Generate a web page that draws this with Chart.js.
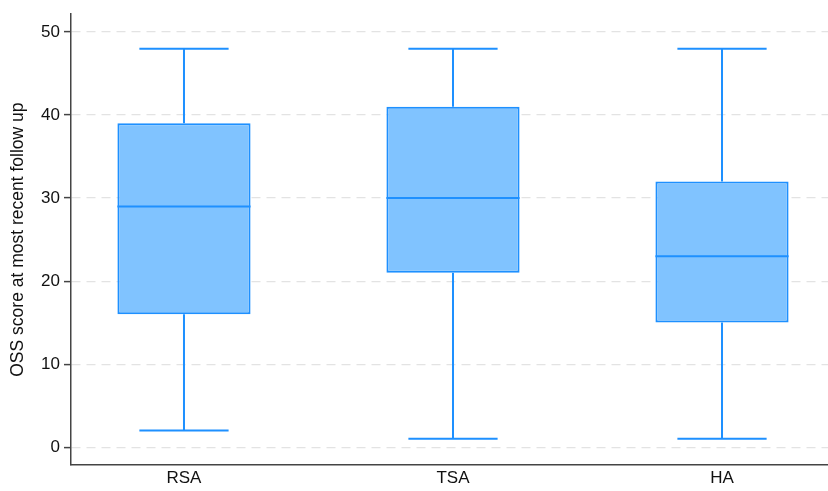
<!DOCTYPE html>
<html>
<head>
<meta charset="utf-8">
<script src="https://cdn.jsdelivr.net/npm/chart.js@4.4.1/dist/chart.umd.min.js"></script>
<style>
  html, body { margin: 0; padding: 0; background: #ffffff; }
  #wrap { width: 828px; height: 491px; }
</style>
</head>
<body>
<div id="wrap"><canvas id="c" width="828" height="491"></canvas></div>
<script>
// Groups and five-number summaries of the OSS score
const groups   = ['RSA', 'TSA', 'HA'];
const mins     = [2, 1, 1];
const q1s      = [16, 21, 15];
const medians  = [29, 30, 23];
const q3s      = [39, 41, 32];
const maxs     = [48, 48, 48];
const yTicks   = [0, 10, 20, 30, 40, 50];

const FILL   = 'rgb(128,195,255)';
const STROKE = 'rgb(30,144,255)';
const AXIS   = '#444444';
const FONT   = "'Liberation Sans', Arial, sans-serif";

// Median lines and whiskers, drawn through the chart's scales
const boxExtras = {
  id: 'boxExtras',
  afterDatasetsDraw(chart) {
    const { ctx, scales: { x, y } } = chart;
    const meta = chart.getDatasetMeta(0);
    ctx.save();
    ctx.strokeStyle = STROKE;
    ctx.lineWidth = 2;
    groups.forEach((g, i) => {
      const bar = meta.data[i];
      const cx = x.getPixelForValue(i);
      const half = bar.width / 2;
      const capHalf = half * 0.67;
      // median
      ctx.beginPath();
      ctx.moveTo(cx - half, y.getPixelForValue(medians[i]));
      ctx.lineTo(cx + half, y.getPixelForValue(medians[i]));
      ctx.stroke();
      // upper whisker and cap
      ctx.beginPath();
      ctx.moveTo(cx, y.getPixelForValue(q3s[i]));
      ctx.lineTo(cx, y.getPixelForValue(maxs[i]));
      ctx.moveTo(cx - capHalf, y.getPixelForValue(maxs[i]));
      ctx.lineTo(cx + capHalf, y.getPixelForValue(maxs[i]));
      // lower whisker and cap
      ctx.moveTo(cx, y.getPixelForValue(q1s[i]));
      ctx.lineTo(cx, y.getPixelForValue(mins[i]));
      ctx.moveTo(cx - capHalf, y.getPixelForValue(mins[i]));
      ctx.lineTo(cx + capHalf, y.getPixelForValue(mins[i]));
      ctx.stroke();
    });
    ctx.restore();
  }
};

new Chart(document.getElementById('c'), {
  type: 'bar',
  data: {
    datasets: [{
      data: groups.map((g, i) => ({ x: i, y: [q1s[i], q3s[i]] })),
      backgroundColor: FILL,
      borderColor: STROKE,
      borderWidth: 2,
      borderSkipped: false,
      categoryPercentage: 1,
      barPercentage: 0.495
    }]
  },
  options: {
    responsive: false,
    animation: false,
    layout: { padding: { top: 12, right: 0, bottom: 0, left: 0 } },
    plugins: { legend: { display: false }, tooltip: { enabled: false } },
    scales: {
      x: {
        type: 'linear',
        offset: false,
        min: -0.42,
        max: 2.394,
        afterBuildTicks: s => { s.ticks = groups.map((g, i) => ({ value: i })); },
        afterFit: s => { s.height = 26; },
        grid: { display: false, drawTicks: false, offset: false },
        border: { display: true, color: AXIS, width: 1.5 },
        ticks: {
          callback: v => groups[v],
          color: '#111111',
          font: { family: FONT, size: 17 },
          padding: 3,
          maxRotation: 0
        }
      },
      y: {
        min: -2.15,
        max: 52.15,
        afterBuildTicks: s => { s.ticks = yTicks.map(v => ({ value: v })); },
        afterFit: s => { s.width = 71; },
        grid: {
          color: '#e3e3e3',
          lineWidth: 1.2,
          drawTicks: true,
          tickLength: 7,
          tickColor: AXIS,
          tickWidth: 1.5
        },
        border: { display: true, color: AXIS, width: 1.5, dash: [9, 6] },
        ticks: {
          color: '#111111',
          font: { family: FONT, size: 17 },
          padding: 4
        },
        title: {
          display: true,
          text: 'OSS score at most recent follow up',
          color: '#111111',
          font: { family: FONT, size: 17.5 },
          padding: { top: 8, bottom: 0 }
        }
      }
    }
  },
  plugins: [boxExtras]
});
</script>
</body>
</html>
